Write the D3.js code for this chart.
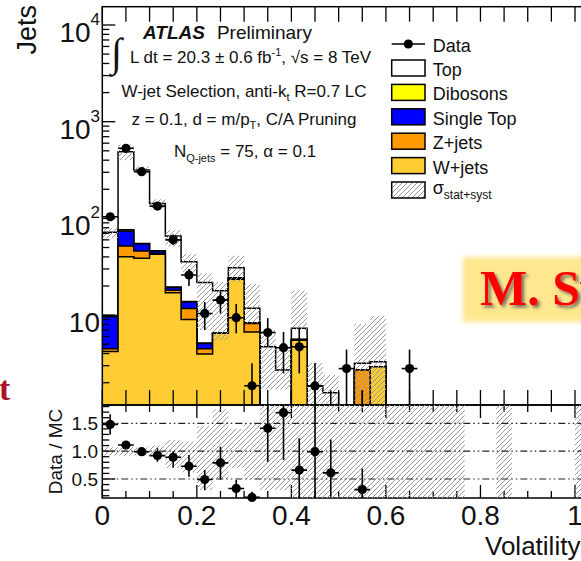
<!DOCTYPE html>
<html><head><meta charset="utf-8">
<script src="https://cdn.jsdelivr.net/npm/d3@7"></script>
<style>
body{margin:0;background:#fff;overflow:hidden;}
svg{display:block;}
text{fill:#111;}
</style>
</head><body>
<svg id="c" width="581" height="561" font-family="Liberation Sans, Arial, Helvetica, sans-serif"></svg>
<script>
// ---------------- data ----------------
const binWidth = 1/30;
const nBins = 31;
const xTickValues = [0, 0.2, 0.4, 0.6, 0.8, 1];
const xTickLabels = ["0", "0.2", "0.4", "0.6", "0.8", "1"];
const yTickExponents = [1, 2, 3, 4];
const ratioTickValues = [0.5, 1.0, 1.5];
const ratioTickLabels = ["0.5", "1.0", "1.5"];

// stacked MC, per bin (bins of width 1/30 starting at 0)
const wjets     = [4.2, 40.2, 38.7, 42.5, 17.0, 9.0, 3.96, 6.5, 23.5, 6.7, 0, 0, 5.5, 0, 0, 0, 0, 2.93];
const zjets     = [0.3, 11.7, 7.3, 1.0, 1.1, 2.7, 0.54, 0, 0.5, 1.5, 0, 0, 0.1, 0, 0, 0, 2.7, 0];
const singleTop = [5.1, 22.1, 8.4, 2.5, 1.2, 2.0, 0.6, 0, 0.3, 0.1, 0, 0, 0, 0, 0, 0, 0, 0];
const dibosons  = [0.3, 2.5, 0.5, 0.3, 0.2, 0.1, 0.05, 0, 0, 0.05, 0, 0, 0, 0, 0, 0, 0, 0];
const topQuark  = [62.1, 413.5, 262.1, 96.7, 46.3, 21.8, 16.65, 11.4, 6.6, 3.45, 4.7, 2.7, 1.7, 1.85, 1.57, 0, 0.48, 0.37];

// total MC uncertainty band (lower / upper edge)
const mcBandLo = [62, 400, 290, 127, 51, 28, 7, 5.5, 22, 8.2, 1.7, 1.7, 7.0, 0.5, 0.5, 0, 0.5, 0.5];
const mcBandHi = [80, 580, 345, 158, 76, 43, 27, 22, 41, 21, 7.0, 4.5, 18, 3.2, 2.4, 0, 8.1, 9.8];

// data with error-bar edges
const dataVals = [104, 531, 304, 134, 60, 26, 10.4, 14.3, 9.4, 1.86, 6.6, 4.6, 4.7, 1.85, 1, 2.8, 1, 0, 0, 2.8];
const dataLo   = [94, 508, 287, 123, 53, 20, 7, 10.4, 6.5, 0.5, 4.7, 2.5, 2.5, 0.5, 0.3, 0.5, 0.3, 0, 0, 0.5];
const dataHi   = [114, 554, 321, 146, 68, 30, 13.7, 17.5, 13, 3.17, 9.3, 6.7, 7.3, 3.2, 1.67, 4.4, 1.67, 0, 0, 4.4];

// ratio panel
const ratioVals = [1.48, 1.11, 0.99, 0.92, 0.89, 0.73, 0.49, 0.79, 0.33, 0.17, 1.41, 1.69, 0.66, 0.99, 0.61, null, 0.31];
const ratioLo   = [1.30, 1.07, 0.96, 0.81, 0.70, 0.54, 0.30, 0.49, 0.17, 0.10, 0.81, 0.84, 0.16, 0.0, 0.18, null, 0.0];
const ratioHi   = [1.66, 1.15, 1.02, 1.05, 1.00, 0.93, 0.66, 1.08, 0.48, 0.27, 2.2, 2.2, 1.23, 2.2, 1.21, null, 0.69];
const ratioBandLo = [0.92, 0.92, 0.92, 0.90, 0.70, 0.62, 0.30, 0.50, 0.70, 0.50, 0.30, 0.30, 0.10, 0.10, 0.10, 0.10, 0.10, 0.10, 0.10, 0.10, 0.10, 0.10, 0.10, null, null, 0.0, null, null, null, null, 0.0];
const ratioBandHi = [1.07, 1.07, 1.07, 1.10, 1.20, 1.17, 1.45, 1.75, 1.40, 1.50, 1.90, 1.90, 1.90, 1.90, 1.90, 1.90, 1.90, 1.90, 1.90, 1.90, 1.90, 1.90, 1.90, null, null, 2.0, null, null, null, null, 2.0];

const legendItems = [
  {label: "Top", color: "#ffffff"},
  {label: "Dibosons", color: "#ffff00"},
  {label: "Single Top", color: "#0000ff"},
  {label: "Z+jets", color: "#ff9900"},
  {label: "W+jets", color: "#ffcc33"}
];

// ---------------- layout ----------------
const svg = d3.select("#c");
const L = 102.3, T = 6.7, MB = 405, RB = 498;
const x = d3.scaleLinear().domain([0, 1]).range([102.3, 575]);
const R = x(nBins * binWidth);
const y = d3.scaleLog().domain([1.176, 15460]).range([MB, T]);
const yr = d3.scaleLinear().domain([0.159, 1.828]).range([RB, MB]);

const defs = svg.append("defs");
const pat = defs.append("pattern").attr("id", "hatch").attr("patternUnits", "userSpaceOnUse")
  .attr("width", 5).attr("height", 5);
pat.append("path").attr("d", "M-1,1 l2,-2 M0,5 l5,-5 M4,6 l2,-2")
  .attr("stroke", "#999").attr("stroke-width", 1);
defs.append("clipPath").attr("id", "clipMain").append("rect")
  .attr("x", L).attr("y", T).attr("width", R - L).attr("height", MB - T);
defs.append("clipPath").attr("id", "clipRatio").append("rect")
  .attr("x", L).attr("y", MB).attr("width", R - L).attr("height", RB - MB);
const blur = defs.append("filter").attr("id", "soft").attr("x", "-10%").attr("y", "-20%").attr("width", "120%").attr("height", "140%");
blur.append("feGaussianBlur").attr("stdDeviation", 2.5);
const shadow = defs.append("filter").attr("id", "shadow").attr("x", "-10%").attr("y", "-20%").attr("width", "130%").attr("height", "150%");
shadow.append("feDropShadow").attr("dx", 2.5).attr("dy", 2.5).attr("stdDeviation", 1.5).attr("flood-color", "#555").attr("flood-opacity", 0.8);

// ---------------- main panel ----------------
const main = svg.append("g").attr("clip-path", "url(#clipMain)");
const layers = [wjets, zjets, singleTop, dibosons, topQuark];
const cum = [];
layers.forEach((arr, k) => {
  cum[k] = d3.range(nBins).map(i => (arr[i] || 0) + (k ? cum[k - 1][i] : 0));
});
const yv = v => (v > 0 ? y(v) : MB + 30);
function stepPath(vals) {
  let p = `M${x(0)},${MB + 30}`;
  for (let i = 0; i < nBins; i++) {
    const v = vals[i] || 0;
    p += `L${x(i * binWidth)},${yv(v)}L${x((i + 1) * binWidth)},${yv(v)}`;
  }
  return p + `L${x(nBins * binWidth)},${MB + 30}Z`;
}
const stackColors = ["#ffcc33", "#ff9900", "#0000ff", "#ffff00", "#ffffff"];
for (let k = layers.length - 1; k >= 0; k--) {
  main.append("path").attr("d", stepPath(cum[k]))
    .attr("fill", stackColors[k]).attr("stroke", "#000").attr("stroke-width", 1.5);
}
// uncertainty band
main.selectAll("rect.band").data(d3.range(mcBandHi.length).filter(i => mcBandHi[i] > 0))
  .join("rect").attr("class", "band")
  .attr("x", i => x(i * binWidth)).attr("width", x(binWidth) - x(0))
  .attr("y", i => y(mcBandHi[i]))
  .attr("height", i => yv(mcBandLo[i]) - y(mcBandHi[i]))
  .attr("fill", "url(#hatch)");

// data
const dIdx = d3.range(dataVals.length).filter(i => dataVals[i] > 0);
const cx = i => x((i + 0.5) * binWidth);
main.selectAll("line.dv").data(dIdx).join("line")
  .attr("x1", cx).attr("x2", cx).attr("y1", i => y(dataHi[i])).attr("y2", i => yv(dataLo[i]))
  .attr("stroke", "#000").attr("stroke-width", 1.6);
main.selectAll("line.dh").data(dIdx).join("line")
  .attr("x1", i => x(i * binWidth)).attr("x2", i => x((i + 1) * binWidth))
  .attr("y1", i => y(dataVals[i])).attr("y2", i => y(dataVals[i]))
  .attr("stroke", "#000").attr("stroke-width", 1.6);
main.selectAll("circle.dp").data(dIdx).join("circle")
  .attr("cx", cx).attr("cy", i => y(dataVals[i])).attr("r", 4.6).attr("fill", "#000");

// main frame + ticks
const ax = svg.append("g").attr("stroke", "#000");
ax.append("rect").attr("x", L).attr("y", T).attr("width", R - L).attr("height", MB - T)
  .attr("fill", "none").attr("stroke-width", 1.5);
const xMinor = d3.range(0, 21).map(i => i * 0.05);
xMinor.forEach(v => {
  const px = x(v);
  ax.append("line").attr("x1", px).attr("x2", px).attr("y1", T).attr("y2", T + 15).attr("stroke-width", 1.3);
  ax.append("line").attr("x1", px).attr("x2", px).attr("y1", MB).attr("y2", MB - 15).attr("stroke-width", 1.3);
});
const yMinorTicks = [];
for (let e = 0; e <= 4; e++) for (let m = 1; m <= 9; m++) {
  const v = m * Math.pow(10, e);
  if (v >= y.domain()[0] && v <= y.domain()[1]) yMinorTicks.push({v, major: m === 1});
}
yMinorTicks.forEach(t => {
  ax.append("line").attr("x1", L).attr("x2", L + (t.major ? 13 : 7))
    .attr("y1", y(t.v)).attr("y2", y(t.v)).attr("stroke-width", 1.3);
});
const yl = svg.append("g");
yTickExponents.forEach(e => {
  const t = yl.append("text").attr("x", 100).attr("y", y(Math.pow(10, e)) + 17)
    .attr("text-anchor", "end").attr("font-size", 28);
  t.append("tspan").text("10");
  if (e > 1) t.append("tspan").attr("font-size", 17).attr("dy", -17).text(String(e));
});
svg.append("text").attr("transform", "translate(36,5) rotate(-90)").attr("text-anchor", "end")
  .attr("font-size", 27).text("Jets");

// ---------------- ratio panel ----------------
const rp = svg.append("g").attr("clip-path", "url(#clipRatio)");
rp.selectAll("rect.rb").data(d3.range(ratioBandHi.length).filter(i => ratioBandHi[i] != null))
  .join("rect").attr("class", "rb")
  .attr("x", i => x(i * binWidth)).attr("width", x(binWidth) - x(0))
  .attr("y", i => yr(ratioBandHi[i])).attr("height", i => yr(ratioBandLo[i]) - yr(ratioBandHi[i]))
  .attr("fill", "url(#hatch)");
ratioTickValues.forEach(v => {
  rp.append("line").attr("x1", L).attr("x2", R).attr("y1", yr(v)).attr("y2", yr(v))
    .attr("stroke", "#222").attr("stroke-width", 1.2).attr("stroke-dasharray", "7,3,1.5,3,1.5,3");
});
const rIdx = d3.range(ratioVals.length).filter(i => ratioVals[i] != null);
rp.selectAll("line.rv").data(rIdx).join("line")
  .attr("x1", cx).attr("x2", cx).attr("y1", i => yr(ratioHi[i])).attr("y2", i => yr(ratioLo[i]))
  .attr("stroke", "#000").attr("stroke-width", 1.6);
rp.selectAll("line.rh").data(rIdx).join("line")
  .attr("x1", i => x(i * binWidth)).attr("x2", i => x((i + 1) * binWidth))
  .attr("y1", i => yr(ratioVals[i])).attr("y2", i => yr(ratioVals[i]))
  .attr("stroke", "#000").attr("stroke-width", 1.6);
svg.selectAll("circle.rp").data(rIdx).join("circle")
  .attr("cx", cx).attr("cy", i => yr(ratioVals[i])).attr("r", 4.6).attr("fill", "#000");

ax.append("rect").attr("x", L).attr("y", MB).attr("width", R - L).attr("height", RB - MB)
  .attr("fill", "none").attr("stroke-width", 1.5);
xMinor.forEach((v, i) => {
  const px = x(v), len = (i % 4 === 0) ? 13 : 7;
  ax.append("line").attr("x1", px).attr("x2", px).attr("y1", MB).attr("y2", MB + len).attr("stroke-width", 1.3);
  ax.append("line").attr("x1", px).attr("x2", px).attr("y1", RB).attr("y2", RB - len).attr("stroke-width", 1.3);
});
d3.range(2, 19).forEach(k => {
  const v = k / 10, major = (k % 5 === 0);
  ax.append("line").attr("x1", L).attr("x2", L + (major ? 13 : 7))
    .attr("y1", yr(v)).attr("y2", yr(v)).attr("stroke-width", 1.3);
});
ratioTickValues.forEach((v, i) => {
  svg.append("text").attr("x", 98).attr("y", yr(v) + 7).attr("text-anchor", "end")
    .attr("font-size", 19).text(ratioTickLabels[i]);
});
svg.append("text").attr("transform", `translate(62,${(MB + RB) / 2}) rotate(-90)`).attr("text-anchor", "middle")
  .attr("font-size", 19).text("Data / MC");

xTickValues.forEach((v, i) => {
  svg.append("text").attr("x", x(v)).attr("y", 525).attr("text-anchor", "middle")
    .attr("font-size", 28).text(xTickLabels[i]);
});
svg.append("text").attr("x", 485).attr("y", 555).attr("font-size", 26).text("Volatility");

// ---------------- labels ----------------
const lab = svg.append("g");
const t1 = lab.append("text").attr("x", 143).attr("y", 39).attr("font-size", 19);
t1.append("tspan").attr("font-weight", "bold").attr("font-style", "italic").text("ATLAS");
t1.append("tspan").attr("dx", 12).text("Preliminary");
lab.append("text").attr("x", 111).attr("y", 66).attr("font-size", 40)
  .attr("font-family", "Liberation Serif, serif").text("∫");
const t2 = lab.append("text").attr("x", 130).attr("y", 63).attr("font-size", 17);
t2.append("tspan").text("L dt = 20.3 ± 0.6 fb");
t2.append("tspan").attr("font-size", 11).attr("dy", -7).text("-1");
t2.append("tspan").attr("dy", 7).text(", √s = 8 TeV");
const t3 = lab.append("text").attr("x", 244).attr("y", 96.5).attr("font-size", 17).attr("text-anchor", "middle");
t3.append("tspan").text("W-jet Selection, anti-k");
t3.append("tspan").attr("font-size", 11).attr("dy", 4).text("t");
t3.append("tspan").attr("dy", -4).text(" R=0.7 LC");
const t4 = lab.append("text").attr("x", 244).attr("y", 125).attr("font-size", 17).attr("text-anchor", "middle");
t4.append("tspan").text("z = 0.1, d = m/p");
t4.append("tspan").attr("font-size", 11).attr("dy", 4).text("T");
t4.append("tspan").attr("dy", -4).text(", C/A Pruning");
const t5 = lab.append("text").attr("x", 245).attr("y", 156.5).attr("font-size", 17).attr("text-anchor", "middle");
t5.append("tspan").text("N");
t5.append("tspan").attr("font-size", 11).attr("dy", 5).text("Q-jets");
t5.append("tspan").attr("dy", -5).text(" = 75, α = 0.1");

// ---------------- legend ----------------
const lg = svg.append("g");
const bx = 391.7, bw = 33.3, bh = 16, tx = 432.7;
lg.append("line").attr("x1", bx).attr("x2", bx + bw).attr("y1", 44).attr("y2", 44).attr("stroke", "#000").attr("stroke-width", 1.6);
lg.append("circle").attr("cx", bx + bw / 2).attr("cy", 44).attr("r", 4.6).attr("fill", "#000");
lg.append("text").attr("x", tx).attr("y", 52).attr("font-size", 18).text("Data");
legendItems.forEach((d, i) => {
  const cy = 68 + i * 24.4;
  lg.append("rect").attr("x", bx).attr("y", cy - bh / 2).attr("width", bw).attr("height", bh)
    .attr("fill", d.color).attr("stroke", "#000").attr("stroke-width", 1.5);
  lg.append("text").attr("x", tx).attr("y", cy + 8).attr("font-size", 18).text(d.label);
});
const sy = 68 + 5 * 24.4;
lg.append("rect").attr("x", bx).attr("y", sy - bh / 2).attr("width", bw).attr("height", bh)
  .attr("fill", "url(#hatch)").attr("stroke", "#000").attr("stroke-width", 1.5);
const st = lg.append("text").attr("x", tx).attr("y", sy + 4).attr("font-size", 18);
st.append("tspan").text("σ");
st.append("tspan").attr("font-size", 12).attr("dy", 5).text("stat+syst");

// ---------------- slide overlay ----------------
svg.append("rect").attr("x", 463).attr("y", 257).attr("width", 160).attr("height", 65)
  .attr("fill", "#fee78e").attr("filter", "url(#soft)");
svg.append("text").attr("x", 480).attr("y", 305).attr("font-family", "Liberation Serif, serif")
  .attr("font-weight", "bold").attr("font-size", 50).style("fill", "#ff0000")
  .attr("filter", "url(#shadow)").text("M. Swiatlowski");
svg.append("text").attr("x", -1).attr("y", 400).attr("font-family", "Liberation Serif, serif")
  .attr("font-weight", "bold").attr("font-size", 34).style("fill", "#a8122c").text("t");
</script>
</body></html>
